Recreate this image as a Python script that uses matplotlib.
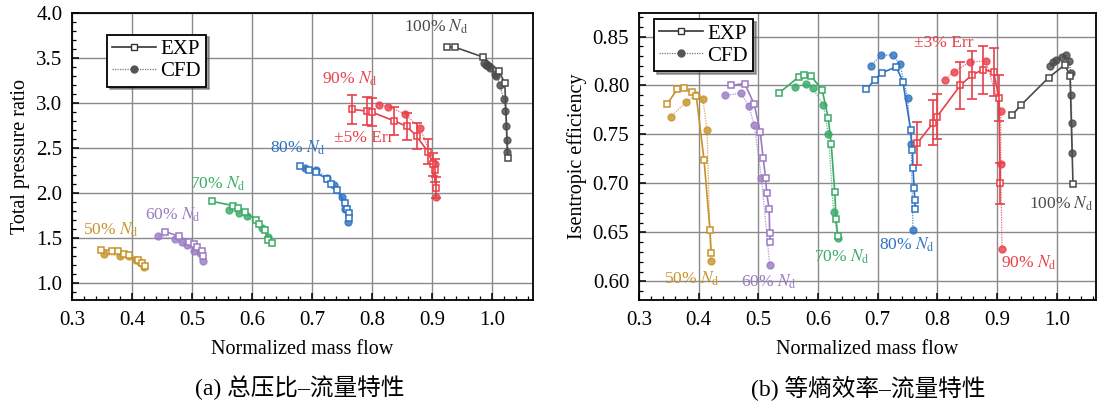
import matplotlib
matplotlib.use("Agg")
import matplotlib.pyplot as plt
from matplotlib.ticker import MultipleLocator

plt.rcParams['font.family'] = ['Liberation Serif', 'Noto Sans CJK SC']
plt.rcParams['mathtext.fontset'] = 'stix'
plt.rcParams['xtick.direction'] = 'in'
plt.rcParams['ytick.direction'] = 'in'

speeds = ["50%", "60%", "70%", "80%", "90%", "100%"]
colors = ["#C8932B", "#9B7BC4", "#3AAA68", "#2E72C2", "#E8404A", "#4A4A4A"]

# (a) total pressure ratio vs normalized mass flow
pr_exp_x = [
    [0.348, 0.366, 0.376, 0.386, 0.395, 0.410, 0.417, 0.422],
    [0.455, 0.478, 0.495, 0.503, 0.509, 0.516, 0.519],
    [0.534, 0.568, 0.576, 0.588, 0.607, 0.612, 0.621, 0.627, 0.633],
    [0.680, 0.695, 0.706, 0.725, 0.731, 0.741, 0.755, 0.758, 0.761, 0.762],
    [0.766, 0.791, 0.799, 0.837, 0.858, 0.874, 0.893, 0.901, 0.905, 0.906],
    [0.924, 0.938, 0.985, 1.011, 1.021, 1.026],
]
pr_exp_y = [
    [1.37, 1.36, 1.35, 1.32, 1.31, 1.25, 1.22, 1.19],
    [1.57, 1.52, 1.46, 1.43, 1.40, 1.35, 1.30],
    [1.905, 1.86, 1.835, 1.79, 1.70, 1.66, 1.59, 1.48, 1.445],
    [2.30, 2.255, 2.23, 2.155, 2.10, 2.03, 1.89, 1.825, 1.775, 1.72],
    [2.93, 2.91, 2.90, 2.80, 2.74, 2.63, 2.46, 2.32, 2.25, 2.06],
    [3.62, 3.62, 3.51, 3.36, 3.22, 2.39],
]
pr_cfd_x = [
    [0.353, 0.380, 0.395, 0.407, 0.414, 0.420],
    [0.444, 0.472, 0.484, 0.492, 0.503, 0.513, 0.519],
    [0.562, 0.578, 0.591, 0.616, 0.626],
    [0.688, 0.706, 0.725, 0.737, 0.749, 0.755, 0.759],
    [0.812, 0.827, 0.854, 0.880, 0.904, 0.906],
    [0.987, 0.989, 0.993, 0.997, 1.005, 1.007, 1.013, 1.019, 1.022, 1.023, 1.024, 1.024],
]
pr_cfd_y = [
    [1.32, 1.30, 1.30, 1.25, 1.23, 1.18],
    [1.52, 1.49, 1.45, 1.42, 1.36, 1.33, 1.24],
    [1.81, 1.78, 1.74, 1.615, 1.51],
    [2.28, 2.255, 2.17, 2.09, 1.95, 1.82, 1.68],
    [2.98, 2.96, 2.88, 2.72, 2.32, 1.95],
    [3.44, 3.425, 3.41, 3.39, 3.32, 3.30, 3.20, 3.04, 2.91, 2.745, 2.59, 2.45],
]
pr_err = 0.055

# (b) isentropic efficiency vs normalized mass flow
eff_exp_x = [
    [0.347, 0.364, 0.375, 0.389, 0.396, 0.409, 0.419, 0.421],
    [0.454, 0.477, 0.493, 0.503, 0.508, 0.512, 0.514, 0.518, 0.519, 0.520],
    [0.534, 0.568, 0.576, 0.588, 0.607, 0.617, 0.622, 0.628, 0.630, 0.633],
    [0.681, 0.695, 0.707, 0.731, 0.742, 0.755, 0.758, 0.759, 0.761, 0.762, 0.763],
    [0.766, 0.793, 0.799, 0.838, 0.858, 0.876, 0.894, 0.903, 0.905],
    [0.925, 0.940, 0.986, 1.013, 1.022, 1.027],
]
eff_exp_y = [
    [0.781, 0.796, 0.797, 0.793, 0.789, 0.724, 0.652, 0.629],
    [0.800, 0.802, 0.781, 0.753, 0.726, 0.706, 0.690, 0.674, 0.649, 0.640],
    [0.792, 0.809, 0.811, 0.810, 0.795, 0.767, 0.740, 0.691, 0.664, 0.646],
    [0.796, 0.806, 0.813, 0.819, 0.804, 0.755, 0.734, 0.716, 0.695, 0.683, 0.674],
    [0.741, 0.762, 0.768, 0.800, 0.811, 0.816, 0.814, 0.787, 0.700],
    [0.770, 0.780, 0.808, 0.821, 0.810, 0.699],
]
eff_cfd_x = [
    [0.353, 0.379, 0.395, 0.407, 0.414, 0.420],
    [0.444, 0.471, 0.484, 0.493, 0.505, 0.519],
    [0.562, 0.580, 0.591, 0.609, 0.617, 0.626, 0.633],
    [0.688, 0.706, 0.725, 0.737, 0.750, 0.756, 0.759],
    [0.812, 0.828, 0.854, 0.881, 0.906, 0.906, 0.908],
    [0.989, 0.993, 0.998, 1.008, 1.016, 1.021, 1.023, 1.024, 1.025, 1.026],
]
eff_cfd_y = [
    [0.768, 0.783, 0.790, 0.786, 0.755, 0.621],
    [0.790, 0.792, 0.779, 0.760, 0.706, 0.617],
    [0.798, 0.802, 0.797, 0.780, 0.750, 0.671, 0.644],
    [0.820, 0.831, 0.831, 0.822, 0.787, 0.740, 0.652],
    [0.806, 0.814, 0.824, 0.825, 0.774, 0.720, 0.633],
    [0.820, 0.824, 0.826, 0.829, 0.831, 0.825, 0.813, 0.790, 0.762, 0.731],
]
eff_err = 0.03

x_ticks = [0.3, 0.4, 0.5, 0.6, 0.7, 0.8, 0.9, 1.0]
x_tick_labels = ["0.3", "0.4", "0.5", "0.6", "0.7", "0.8", "0.9", "1.0"]

fig = plt.figure(figsize=(10.99, 4.03), dpi=100)
ax1 = fig.add_axes([0.0655, 0.2556, 0.4195, 0.7121])
ax2 = fig.add_axes([0.5814, 0.2556, 0.4156, 0.7121])


def draw_series(ax, ex, ey, cx, cy, err, err_idx):
    for i in range(len(speeds)):
        c = colors[i]
        ax.plot(cx[i], cy[i], ls=(0, (1, 1)), lw=0.9, color=c, alpha=0.8,
                marker="o", ms=5, mfc=c, mec=c, zorder=3)
        ax.plot(ex[i], ey[i], ls="-", lw=1.2, color=c,
                marker="s", ms=5, mfc="white", mec=c, mew=1.1, zorder=4)
        if i == err_idx:
            yerr = [v * err for v in ey[i]]
            ax.errorbar(ex[i], ey[i], yerr=yerr, fmt="none", ecolor=c,
                        elinewidth=1.2, capsize=3.5, capthick=1.2, zorder=4)


def style_axes(ax):
    ax.grid(True, color="#8a8a8a", lw=1.0)
    ax.set_axisbelow(True)
    for s in ax.spines.values():
        s.set_linewidth(1.3)
    ax.tick_params(which="both", top=False, right=False, labelsize=15)
    ax.tick_params(axis="x", which="major", pad=8)
    ax.tick_params(axis="y", which="major", pad=7)
    ax.tick_params(which="major", length=5, width=1.1)
    ax.tick_params(which="minor", length=3, width=0.9)
    ax.set_xlabel("Normalized mass flow", fontsize=14.5, labelpad=7)
    leg_exp = plt.Line2D([], [], color="#333333", lw=1.2, marker="s", ms=5,
                         mfc="white", mec="#333333")
    leg_cfd = plt.Line2D([], [], color="#777777", lw=0.9, ls=(0, (1, 1)),
                         marker="o", ms=5, mfc="#555555", mec="#555555")
    return leg_exp, leg_cfd


draw_series(ax1, pr_exp_x, pr_exp_y, pr_cfd_x, pr_cfd_y, pr_err, 4)
draw_series(ax2, eff_exp_x, eff_exp_y, eff_cfd_x, eff_cfd_y, eff_err, 4)

ax1.set_xlim(0.3, 1.068)
ax1.set_ylim(0.81, 4.0)
ax1.set_xticks(x_ticks)
ax1.set_xticklabels(x_tick_labels)
ax1.xaxis.set_minor_locator(MultipleLocator(0.02))
ax1.yaxis.set_major_locator(MultipleLocator(0.5))
ax1.yaxis.set_minor_locator(MultipleLocator(0.1))
ax1.set_ylabel("Total pressure ratio", fontsize=14.5, labelpad=4)

ax2.set_xlim(0.3, 1.065)
ax2.set_ylim(0.581, 0.874)
ax2.set_xticks(x_ticks)
ax2.set_xticklabels(x_tick_labels)
ax2.xaxis.set_minor_locator(MultipleLocator(0.02))
ax2.yaxis.set_major_locator(MultipleLocator(0.05))
ax2.yaxis.set_minor_locator(MultipleLocator(0.01))
ax2.set_ylabel("Isentropic efficiency", fontsize=14.5, labelpad=4)

for ax, loc in [(ax1, (0.076, 0.925)), (ax2, (0.033, 0.98))]:
    h_exp, h_cfd = style_axes(ax)
    leg = ax.legend([h_exp, h_cfd], ["EXP", "CFD"], loc="upper left",
                    bbox_to_anchor=loc, fontsize=15, frameon=True, fancybox=False,
                    shadow=True, handlelength=2.1, handletextpad=0.2,
                    borderpad=0.25, labelspacing=0.12, borderaxespad=0)
    leg.get_frame().set_edgecolor("black")
    leg.get_frame().set_linewidth(1.3)

nd = r"$\mathit{N}_{\mathrm{d}}$"
pr_label_pos = [(0.365, 1.585), (0.468, 1.76), (0.543, 2.107), (0.677, 2.50),
                (0.763, 3.27), (0.906, 3.85)]
eff_label_pos = [(0.389, 0.603), (0.517, 0.600), (0.640, 0.625), (0.7485, 0.637),
                 (0.953, 0.619), (1.008, 0.679)]
for i in range(len(speeds)):
    ax1.text(pr_label_pos[i][0], pr_label_pos[i][1], speeds[i] + " " + nd,
             color=colors[i], fontsize=12.5, ha="center", va="center")
    ax2.text(eff_label_pos[i][0], eff_label_pos[i][1], speeds[i] + " " + nd,
             color=colors[i], fontsize=12.5, ha="center", va="center")
ax1.text(0.786, 2.61, "±5% Err", color=colors[4], fontsize=12.5, ha="center", va="center")
ax2.text(0.81, 0.843, "±3% Err", color=colors[4], fontsize=12.5, ha="center", va="center")

fig.text(0.273, 0.037, "(a) 总压比–流量特性", fontsize=17, ha="center", va="center")
fig.text(0.79, 0.037, "(b) 等熵效率–流量特性", fontsize=17, ha="center", va="center")

fig.savefig("out.png", dpi=100)
